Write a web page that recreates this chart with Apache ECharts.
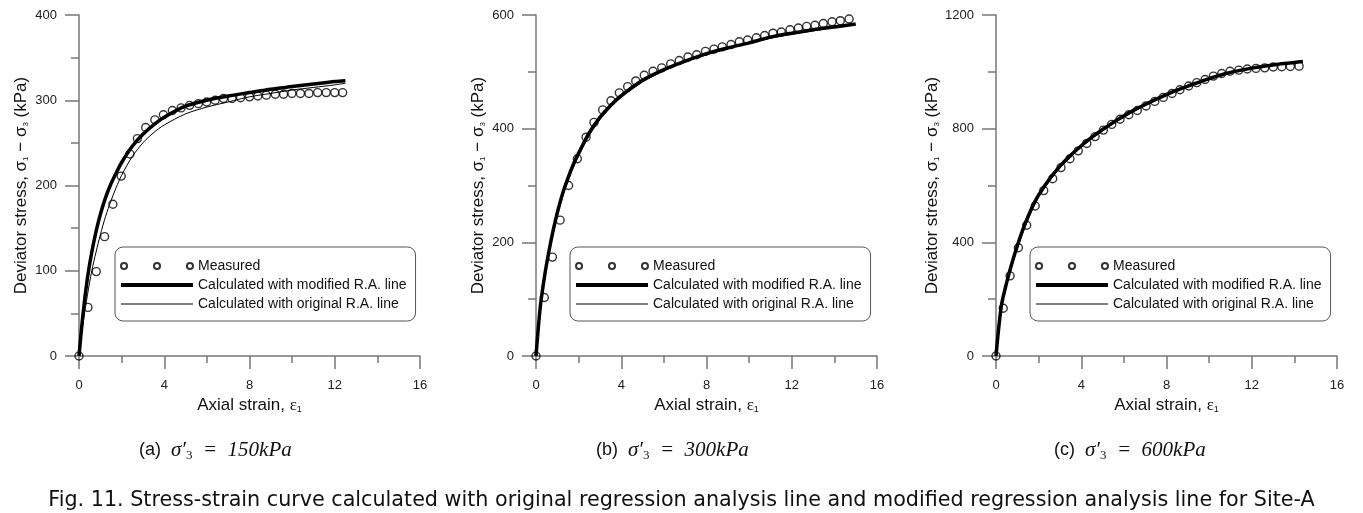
<!DOCTYPE html>
<html><head><meta charset="utf-8">
<script src="https://cdn.jsdelivr.net/npm/echarts@6/dist/echarts.min.js"></script>
<style>html,body{margin:0;padding:0;background:#fff}#c{width:1363px;height:513px}</style>
</head><body><div id="c"></div>
<script>
// ---------- data ----------
const xTickInterval = 4, xMax = 16;
const yMaxs = [400, 600, 1200];
const yIntervals = [100, 200, 400];
const panelLabels = ['(a)', '(b)', '(c)'];
const panelPressures = ['150kPa', '300kPa', '600kPa'];
const nameMeasured = 'Measured';
const nameModified = 'Calculated with modified R.A. line';
const nameOriginal = 'Calculated with original R.A. line';
const caption = 'Fig. 11. Stress-strain curve calculated with original regression analysis line and modified regression analysis line for Site-A';

// (a) sigma'3 = 150 kPa
const measStrainA = [0,0.42,0.81,1.2,1.59,1.98,2.39,2.74,3.13,3.56,3.96,4.38,4.79,5.19,5.6,5.99,6.39,6.78,7.18,7.58,8.0,8.39,8.79,9.21,9.6,9.99,10.39,10.79,11.2,11.6,12.0,12.37];
const measStressA = [0,57,99,140,178,211,237,255,268,277,283,288,291,294,296,298,300,302,302,303,304,305,306,307,307,308,308,308,309,309,309,309];
const calcStrainA = [0,0.2,0.4,0.6,0.8,1,1.25,1.5,1.75,2,2.5,3,3.5,4,5,6,7,8,9,10,11,12,12.5];
const modStressA  = [0,52,92,122,146,166,186,202,215,227,246,260,271,280,293,300,305,309,313,316,319,322,323];
const origStressA = [0,40,72,100,122,142,164,182,198,212,234,250,262,271,284,292,298,304,308,312,315,318,320];

// (b) sigma'3 = 300 kPa
const measStrainB = [0,0.39,0.77,1.13,1.53,1.94,2.35,2.72,3.13,3.52,3.91,4.3,4.68,5.08,5.49,5.9,6.32,6.72,7.13,7.54,7.95,8.35,8.74,9.15,9.54,9.93,10.34,10.73,11.12,11.51,11.92,12.31,12.7,13.09,13.48,13.89,14.28,14.69];
const measStressB = [0,103,174,239,300,347,385,411,433,449,463,474,484,494,501,507,514,520,526,530,536,540,544,548,553,556,560,564,568,570,574,577,580,582,585,588,590,593];
const calcStrainB = [0,0.2,0.4,0.6,0.8,1,1.25,1.5,1.75,2,2.5,3,3.5,4,5,6,7,8,9,10,11,12,13,14,15];
const modStressB  = [0,86,140,183,220,252,286,313,337,357,393,420,441,458,485,504,519,532,542,551,561,568,574,579,584];
const origStressB = [0,80,134,178,215,247,281,308,332,352,388,416,437,455,482,502,517,530,541,550,559,566,572,578,583];

// (c) sigma'3 = 600 kPa
const measStrainC = [0,0.34,0.66,1.05,1.44,1.84,2.24,2.66,3.05,3.47,3.86,4.26,4.65,5.04,5.43,5.82,6.23,6.63,7.04,7.45,7.85,8.26,8.63,9.04,9.42,9.81,10.2,10.59,10.98,11.39,11.79,12.2,12.61,13.01,13.41,13.81,14.22];
const measStressC = [0,168,282,381,460,528,582,624,663,694,722,748,772,795,815,833,849,864,880,896,910,924,937,950,962,973,985,994,1002,1006,1010,1012,1014,1017,1018,1019,1020];
const calcStrainC = [0,0.25,0.5,0.75,1,1.25,1.5,1.75,2,2.5,3,3.5,4,4.5,5,5.5,6,6.5,7,7.5,8,8.5,9,9.5,10,10.5,11,11.5,12,12.5,13,13.5,14,14.4];
const modStressC  = [0,176,258,327,388,443,490,532,567,622,668,706,740,770,797,822,845,866,885,903,920,936,950,963,976,988,998,1006,1013,1019,1024,1029,1033,1036];
const origStressC = [0,170,250,318,378,432,480,522,558,614,661,700,735,765,792,818,841,862,882,900,917,933,947,960,973,985,995,1004,1011,1018,1023,1028,1032,1035];

// ---------- build ----------
const panels = [
  {ms: measStrainA, mq: measStressA, cs: calcStrainA, mod: modStressA, orig: origStressA},
  {ms: measStrainB, mq: measStressB, cs: calcStrainB, mod: modStressB, orig: origStressB},
  {ms: measStrainC, mq: measStressC, cs: calcStrainC, mod: modStressC, orig: origStressC}
];
const zip = (xs, ys) => xs.map((x, i) => [x, ys[i]]);

const gridLefts = [79, 536, 996];
const legendLefts = [115, 570, 1030];
const titleLefts = [134, 591, 1049];
const axisColor = '#777';
const sans = 'Liberation Sans, Arial, sans-serif';
const serif = 'Liberation Serif, Times New Roman, serif';

const grid = gridLefts.map(l => ({left: l, top: 15, width: 341, height: 341}));

const xAxis = gridLefts.map((l, i) => ({
  type: 'value', gridIndex: i, min: 0, max: xMax, interval: xTickInterval,
  axisLine: {show: true, onZero: false, lineStyle: {color: axisColor, width: 1.5}},
  axisTick: {show: true, length: 13, lineStyle: {color: axisColor, width: 1.5}},
  minorTick: {show: true, splitNumber: 2, length: 7, lineStyle: {color: axisColor, width: 1.5}},
  splitLine: {show: false},
  axisLabel: {margin: 23, color: '#222', fontSize: 13, fontFamily: sans, formatter: v => String(v)},
  name: 'Axial strain, {e|ε}{s|1}',
  nameLocation: 'middle', nameGap: 40,
  nameTextStyle: {color: '#111', fontSize: 17, fontFamily: sans,
    rich: {e: {fontSize: 17, fontFamily: serif, color: '#111'},
           s: {fontSize: 9, fontFamily: sans, color: '#111', verticalAlign: 'bottom', padding: [6,0,0,0]}}}
}));

const yAxis = gridLefts.map((l, i) => ({
  type: 'value', gridIndex: i, min: 0, max: yMaxs[i], interval: yIntervals[i],
  axisLine: {show: true, onZero: false, lineStyle: {color: axisColor, width: 1.5}},
  axisTick: {show: true, length: 14, lineStyle: {color: axisColor, width: 1.5}},
  minorTick: {show: true, splitNumber: 2, length: 8, lineStyle: {color: axisColor, width: 1.5}},
  splitLine: {show: false},
  axisLabel: {margin: 22, color: '#222', fontSize: 13, fontFamily: sans, formatter: v => String(v)},
  name: 'Deviator stress, σ{s|1} − σ{s|3} (kPa)',
  nameLocation: 'middle', nameGap: 49,
  nameTextStyle: {color: '#111', fontSize: 17, fontFamily: sans,
    rich: {s: {fontSize: 8, fontFamily: sans, color: '#111', verticalAlign: 'bottom', padding: [6,0,0,0]}}}
}));

const series = [];
panels.forEach((p, i) => {
  series.push({
    name: nameOriginal, type: 'line', xAxisIndex: i, yAxisIndex: i,
    data: zip(p.cs, p.orig), symbol: 'none', showSymbol: false, smooth: 0.3,
    lineStyle: {color: '#000', width: 1}, itemStyle: {color: '#000'}, z: 3
  });
  series.push({
    name: nameModified, type: 'line', xAxisIndex: i, yAxisIndex: i,
    data: zip(p.cs, p.mod), symbol: 'none', showSymbol: false, smooth: 0.3,
    lineStyle: {color: '#000', width: 3.5}, itemStyle: {color: '#000'}, z: 4
  });
  series.push({
    name: nameMeasured, type: 'scatter', xAxisIndex: i, yAxisIndex: i,
    data: zip(p.ms, p.mq), symbol: 'circle', symbolSize: 8, clip: false,
    itemStyle: {color: 'rgba(255,255,255,0)', borderColor: '#000', borderWidth: 1.4}, z: 5
  });
});

const circlesIcon = 'path://M0,3a3,3 0 1,0 6,0a3,3 0 1,0 -6,0M32.5,3a3,3 0 1,0 6,0a3,3 0 1,0 -6,0M65,3a3,3 0 1,0 6,0a3,3 0 1,0 -6,0';
const thickIcon = 'path://M0,0H72V4H0Z';
const thinIcon = 'path://M0,0H72V1H0Z';
const legend = legendLefts.map(l => ({
  left: l, top: 247, orient: 'vertical', selectedMode: false,
  itemWidth: 72, itemHeight: 14, itemGap: 5,
  padding: [12, 9, 10, 5],
  borderColor: '#555', borderWidth: 1, borderRadius: 8,
  textStyle: {fontSize: 14, color: '#111', fontFamily: sans},
  data: [{name: nameMeasured, icon: circlesIcon},
         {name: nameModified, icon: thickIcon},
         {name: nameOriginal, icon: thinIcon}]
}));

const title = titleLefts.map((l, i) => ({
  left: l, top: 434,
  text: '{p|' + panelLabels[i] + '}  {m|σ′}{s|3}{m|  =  ' + panelPressures[i] + '}',
  textStyle: {fontWeight: 'normal', rich: {
    p: {fontSize: 18, fontFamily: sans, color: '#111', fontWeight: 'normal'},
    m: {fontSize: 21, fontFamily: serif, fontStyle: 'italic', color: '#111', fontWeight: 'normal'},
    s: {fontSize: 13, fontFamily: serif, color: '#111', fontWeight: 'normal', verticalAlign: 'bottom', padding: [10,0,0,0]}
  }}
}));
title.push({left: 'center', top: 485, text: caption,
  textStyle: {fontSize: 20.7, fontWeight: 'normal', fontFamily: 'DejaVu Sans, sans-serif', color: '#111'}});

const chart = echarts.init(document.getElementById('c'), null, {renderer: 'canvas'});
chart.setOption({animation: false, backgroundColor: '#fff', title, grid, xAxis, yAxis, legend, series});
</script></body></html>
